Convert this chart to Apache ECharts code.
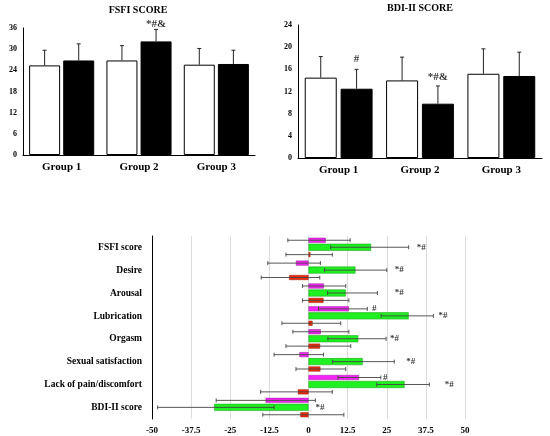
<!DOCTYPE html>
<html>
<head>
<meta charset="utf-8">
<script src="https://cdn.jsdelivr.net/npm/echarts@6/dist/echarts.min.js"></script>
<style>
html, body { margin: 0; padding: 0; background: #fff; }
#chart { width: 550px; height: 436px; }
</style>
</head>
<body>
<div id="chart"></div>
<script>
// top charts
var groups = ["Group 1", "Group 2", "Group 3"];
var fsfiTicks = [0, 6, 12, 18, 24, 30, 36];
var fsfiWhite = [25.4, 26.8, 25.6];
var fsfiWhiteSd = [4.3, 4.2, 4.6];
var fsfiBlack = [26.8, 32.2, 25.8];
var fsfiBlackSd = [4.7, 3.4, 3.9];
var fsfiNotes = [[1, 37.2, "*#&"]];

var bdiTicks = [0, 4, 8, 12, 16, 20, 24];
var bdiWhite = [14.5, 14.0, 15.2];
var bdiWhiteSd = [3.8, 4.2, 4.5];
var bdiBlack = [12.5, 9.8, 14.8];
var bdiBlackSd = [3.5, 3.2, 4.3];
var bdiNotes = [[0, 17.8, "#"], [1, 14.6, "*#&"]];

// bottom chart
var measures = ["FSFI score", "Desire", "Arousal", "Lubrication", "Orgasm",
    "Sexual satisfaction", "Lack of pain/discomfort", "BDI-II score"];
var changeTicks = [-50, -37.5, -25, -12.5, 0, 12.5, 25, 37.5, 50];
var magenta = [5.5, -4.0, 4.9, 12.9, 3.9, -2.9, 16.1, -13.7];
var magentaLo = [-6.6, -13.0, -1.9, 3.2, -5.0, -11.0, 9.4, -29.5];
var magentaHi = [13.3, 3.8, 11.9, 18.8, 12.9, 4.8, 23.1, 2.2];
var green = [20.0, 15.0, 11.9, 32.0, 15.9, 17.3, 30.7, -30.1];
var greenLo = [7.1, 5.1, 6.1, 23.2, 6.2, 7.7, 21.8, -48.2];
var greenHi = [32.0, 25.0, 22.0, 39.9, 24.8, 27.4, 38.6, -11.0];
var red = [0.6, -6.2, 4.8, 1.3, 3.7, 3.8, -3.4, -2.6];
var redLo = [-7.2, -15.1, -1.9, -8.5, -7.2, -4.0, -15.3, -14.6];
var redHi = [7.6, 3.6, 12.9, 10.3, 13.5, 11.9, 7.6, 11.3];
// [value, measure index, text, row 0=magenta 1=green]
var changeNotes = [
    [36, 0, "*#", 1], [29, 1, "*#", 1], [29, 2, "*#", 1],
    [21, 3, "#", 0], [43, 3, "*#", 1], [27.5, 4, "*#", 1],
    [32.7, 5, "*#", 1], [24.5, 6, "#", 0], [45, 6, "*#", 1], [3.7, 7, "*#", 1]
];

var FONT = "'Palatino Linotype', 'Book Antiqua', 'Liberation Serif', serif";
var chart = echarts.init(document.getElementById("chart"));

// ECharts bar offsets (px) for fixed widths and gap percent
function barCenters(widths, gap) {
    var total = 0, i;
    for (i = 0; i < widths.length; i++) total += widths[i] * (1 + gap);
    total -= widths[widths.length - 1] * gap;
    var off = -total / 2, out = [];
    for (i = 0; i < widths.length; i++) {
        out.push(off + widths[i] / 2);
        off += widths[i] * (1 + gap);
    }
    return out;
}

function upErrors(offset) {
    return function (params, api) {
        var base = api.coord([api.value(0), api.value(1)]);
        var top = api.coord([api.value(0), api.value(1) + api.value(2)]);
        var x = base[0] + offset;
        var st = { stroke: "#222", lineWidth: 1 };
        return { type: "group", children: [
            { type: "line", shape: { x1: x, y1: base[1], x2: x, y2: top[1] }, style: st },
            { type: "line", shape: { x1: x - 2, y1: top[1], x2: x + 2, y2: top[1] }, style: st }
        ] };
    };
}

function sideErrors(offset) {
    return function (params, api) {
        var a = api.coord([api.value(1), api.value(0)]);
        var b = api.coord([api.value(2), api.value(0)]);
        var y = a[1] + offset;
        var st = { stroke: "#444", lineWidth: 0.9 };
        return { type: "group", children: [
            { type: "line", shape: { x1: a[0], y1: y, x2: b[0], y2: y }, style: st },
            { type: "line", shape: { x1: a[0], y1: y - 2, x2: a[0], y2: y + 2 }, style: st },
            { type: "line", shape: { x1: b[0], y1: y - 2, x2: b[0], y2: y + 2 }, style: st }
        ] };
    };
}

function zip(a, b) { return a.map(function (v, i) { return [i, v, b[i]]; }); }
function zip3(lo, hi) { return lo.map(function (v, i) { return [i, v, hi[i]]; }); }

var topGrids = [
    { left: 23, top: 28, width: 232, height: 127 },
    { left: 298, top: 25, width: 244, height: 133 }
];
var topSets = [
    { ticks: fsfiTicks, w: fsfiWhite, ws: fsfiWhiteSd, b: fsfiBlack, bs: fsfiBlackSd, notes: fsfiNotes, bw: 31, gap: 0.1 },
    { ticks: bdiTicks, w: bdiWhite, ws: bdiWhiteSd, b: bdiBlack, bs: bdiBlackSd, notes: bdiNotes, bw: 32, gap: 0.12 }
];

var xAxes = [], yAxes = [], series = [];
topSets.forEach(function (s, k) {
    xAxes.push({
        type: "category", gridIndex: k, data: groups,
        axisLine: { lineStyle: { color: "#000", width: 1 } },
        axisTick: { show: false },
        axisLabel: { color: "#000", fontFamily: FONT, fontWeight: "bold", fontSize: 11, margin: 7 }
    });
    yAxes.push({
        type: "value", gridIndex: k,
        min: s.ticks[0], max: s.ticks[s.ticks.length - 1], interval: s.ticks[1] - s.ticks[0],
        axisLine: { show: true, lineStyle: { color: "#000", width: 1 } },
        axisTick: { show: false },
        splitLine: { show: false },
        axisLabel: { color: "#000", fontFamily: FONT, fontWeight: "bold", fontSize: 8, margin: 6 }
    });
    var c = barCenters([s.bw, s.bw], s.gap);
    series.push({
        type: "bar", xAxisIndex: k, yAxisIndex: k, data: s.w, barWidth: s.bw, barGap: (s.gap * 100) + "%",
        itemStyle: { color: "#fff", borderColor: "#000", borderWidth: 1 }, silent: true
    });
    series.push({
        type: "bar", xAxisIndex: k, yAxisIndex: k, data: s.b, barWidth: s.bw, barGap: (s.gap * 100) + "%",
        itemStyle: { color: "#000", borderColor: "#000", borderWidth: 1 }, silent: true
    });
    series.push({
        type: "custom", xAxisIndex: k, yAxisIndex: k, data: zip(s.w, s.ws),
        renderItem: upErrors(c[0]), encode: { x: 0, y: 1 }, silent: true, z: 5
    });
    series.push({
        type: "custom", xAxisIndex: k, yAxisIndex: k, data: zip(s.b, s.bs),
        renderItem: upErrors(c[1]), encode: { x: 0, y: 1 }, silent: true, z: 5
    });
    series.push({
        type: "scatter", xAxisIndex: k, yAxisIndex: k, symbolSize: 0, clip: false,
        data: s.notes.map(function (n) { return { value: [n[0], n[1]], name: n[2] }; }),
        label: {
            show: true, position: "inside", offset: [c[1], 0], formatter: "{b}",
            color: "#000", fontFamily: FONT, fontWeight: "bold", fontSize: 11
        },
        silent: true
    });
});

// bottom chart
var widths = [5, 7, 5];
var gapPct = 0.2;
var cb = barCenters(widths, gapPct);
xAxes.push({
    type: "value", gridIndex: 2,
    min: changeTicks[0], max: changeTicks[changeTicks.length - 1], interval: changeTicks[1] - changeTicks[0],
    axisLine: { show: false }, axisTick: { show: false },
    splitLine: { show: true, lineStyle: { color: "#dcdcdc", width: 1 } },
    axisLabel: { color: "#000", fontFamily: FONT, fontWeight: "bold", fontSize: 9, margin: 7 }
});
yAxes.push({
    type: "category", gridIndex: 2, data: measures, inverse: true,
    axisLine: { show: true, onZero: false, lineStyle: { color: "#000", width: 1 } },
    axisTick: { show: false },
    axisLabel: { color: "#000", fontFamily: FONT, fontWeight: "bold", fontSize: 9.5, margin: 10 }
});
var rows = [
    { v: magenta, lo: magentaLo, hi: magentaHi, color: "#f526f5", edge: "#9a189a" },
    { v: green, lo: greenLo, hi: greenHi, color: "#1ff01f", edge: "#139a13" },
    { v: red, lo: redLo, hi: redHi, color: "#ee2a0c", edge: "#9a1c08" }
];
rows.forEach(function (r, i) {
    series.push({
        type: "bar", xAxisIndex: 2, yAxisIndex: 2, data: r.v, barWidth: widths[i], barGap: (gapPct * 100) + "%",
        itemStyle: { color: r.color, borderColor: r.edge, borderWidth: 0.5 }, silent: true
    });
});
rows.forEach(function (r, i) {
    series.push({
        type: "custom", xAxisIndex: 2, yAxisIndex: 2, data: zip3(r.lo, r.hi),
        renderItem: sideErrors(cb[i]), encode: { x: [1, 2], y: 0 }, silent: true, z: 5
    });
});
series.push({
    type: "scatter", xAxisIndex: 2, yAxisIndex: 2, symbolSize: 0, clip: false,
    data: changeNotes.map(function (n) {
        return { value: [n[0], n[1]], name: n[2], label: { offset: [0, cb[n[3]]] } };
    }),
    label: {
        show: true, position: "inside", formatter: "{b}",
        color: "#000", fontFamily: FONT, fontWeight: "bold", fontSize: 9
    },
    silent: true
});

chart.setOption({
    animation: false,
    backgroundColor: "#fff",
    title: [
        { text: "FSFI SCORE", left: 138, top: 5, textAlign: "center", padding: 0,
          textStyle: { fontFamily: FONT, fontWeight: "bold", fontSize: 10, color: "#000" } },
        { text: "BDI-II SCORE", left: 420, top: 3, textAlign: "center", padding: 0,
          textStyle: { fontFamily: FONT, fontWeight: "bold", fontSize: 10, color: "#000" } }
    ],
    grid: topGrids.concat([{ left: 152, top: 236, width: 313, height: 183 }]),
    xAxis: xAxes,
    yAxis: yAxes,
    series: series
});
</script>
</body>
</html>
